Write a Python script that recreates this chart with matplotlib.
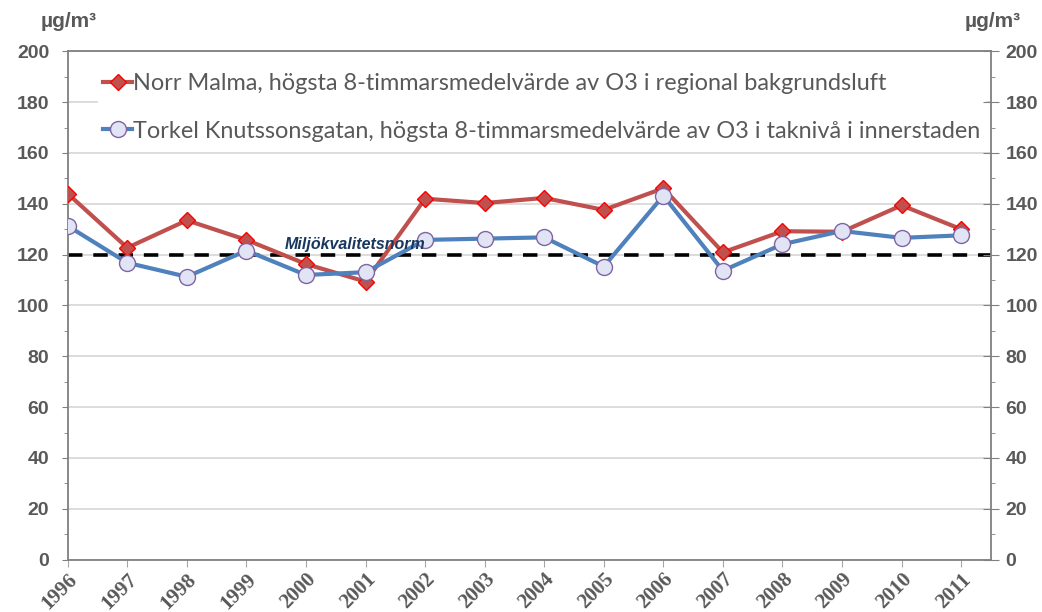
import matplotlib
matplotlib.use("Agg")
import matplotlib.pyplot as plt

years = [1996, 1997, 1998, 1999, 2000, 2001, 2002, 2003,
         2004, 2005, 2006, 2007, 2008, 2009, 2010, 2011]
norr_malma = [144.0, 122.7, 133.5, 125.8, 116.3, 109.4, 142.0, 140.3,
              142.3, 137.6, 146.1, 120.9, 129.2, 129.0, 139.4, 130.0]
torkel = [131.3, 116.8, 111.3, 121.6, 112.0, 113.1, 125.8, 126.3,
          126.8, 115.3, 143.2, 113.7, 124.1, 129.3, 126.6, 127.6]
norm_value = 120
yticks = [0, 20, 40, 60, 80, 100, 120, 140, 160, 180, 200]
yminor = [10, 30, 50, 70, 90, 110, 130, 150, 170, 190]
label_norr = "Norr Malma, högsta 8-timmarsmedelvärde av O3 i regional bakgrundsluft"
label_torkel = "Torkel Knutssonsgatan, högsta 8-timmarsmedelvärde av O3 i taknivå i innerstaden"
unit = "µg/m³"

grey = "#595959"
spine_grey = "#808080"
tick_font = "Liberation Sans"

fig = plt.figure(figsize=(10.42, 6.12), dpi=100)
ax = fig.add_axes([0.065, 0.0855, 0.886, 0.8307])

ax.plot(years, norr_malma, color="#C0504D", lw=3, marker="D", ms=8.5,
        markerfacecolor="#C0504D", markeredgecolor="#FF0000", markeredgewidth=1,
        label=label_norr, zorder=3)
ax.plot(years, torkel, color="#4F81BD", lw=3, marker="o", ms=11.5,
        markerfacecolor="#E0E4F4", markeredgecolor="#8064A2", markeredgewidth=1,
        label=label_torkel, zorder=4)
ax.axhline(norm_value, color="black", lw=2.6, ls=(0, (4, 3)), zorder=2)
ax.text(2000.82, norm_value + 4.0, "Miljökvalitetsnorm", color="#17375E",
        fontsize=11.5, fontweight="bold", style="italic", ha="center", va="center",
        family="Liberation Sans", zorder=6)

ax.set_xlim(1996, 2011.5)
ax.set_ylim(0, 200)
ax.set_xticks(years)
ax.set_xticklabels([str(y) for y in years], rotation=45, ha="right",
                   rotation_mode="anchor", family="Liberation Serif",
                   fontweight="bold", fontsize=15, color=grey)
ax.set_yticks(yticks)
ax.set_yticks(yminor, minor=True)
ax.set_yticklabels([str(v) for v in yticks], family=tick_font,
                   fontweight="bold", fontsize=14, color=grey)
ax.grid(axis="y", color="#D9D9D9", lw=1.3, zorder=0)
ax.set_axisbelow(True)
for s in ax.spines.values():
    s.set_color(spine_grey)
    s.set_linewidth(1.3)
ax.tick_params(axis="x", length=5, color="#A6A6A6", pad=2)
ax.tick_params(axis="y", which="major", length=4.3, color=spine_grey, pad=9)
ax.tick_params(axis="y", which="minor", length=3, color=spine_grey)

ax2 = ax.twinx()
ax2.set_ylim(0, 200)
ax2.set_yticks(yticks)
ax2.set_yticks(yminor, minor=True)
ax2.set_yticklabels([str(v) for v in yticks], family=tick_font,
                    fontweight="bold", fontsize=14, color=grey)
ax2.tick_params(axis="y", which="major", direction="inout", length=11,
                color=spine_grey, pad=5)
ax2.tick_params(axis="y", which="minor", length=3, color=spine_grey)
for s in ax2.spines.values():
    s.set_visible(False)

leg = ax.legend(loc="upper left", bbox_to_anchor=(0.033, 0.967), frameon=True,
                framealpha=1, edgecolor="white", fancybox=False,
                prop={"family": "Lato", "size": 16.9}, labelcolor=grey,
                handlelength=1.25, handletextpad=0.03, labelspacing=1.14,
                borderpad=0.2, borderaxespad=0)
leg.set_zorder(5)

fig.text(0.066, 0.965, unit, ha="center", va="center", fontsize=15,
         fontweight="bold", color=grey, family=tick_font)
fig.text(0.953, 0.965, unit, ha="center", va="center", fontsize=15,
         fontweight="bold", color=grey, family=tick_font)

fig.savefig("out.png", dpi=100)
